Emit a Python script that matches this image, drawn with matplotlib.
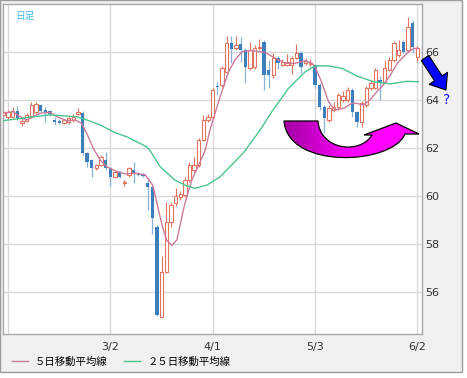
import numpy as np
import matplotlib.pyplot as plt
from matplotlib.patches import Rectangle, FancyArrow, PathPatch
from matplotlib.path import Path
from matplotlib.colors import LinearSegmentedColormap

# daily candles (index = trading day)
opens = [63.38, 63.28, 63.30, 63.55, 63.05, 63.14, 63.33, 63.50, 63.80, 63.60,
         63.55, 63.17, 63.12, 63.05, 63.08, 63.15, 63.40, 63.47, 61.80, 61.50,
         61.15, 61.30, 61.50, 61.15, 60.80, 61.00, 60.53, 60.87, 61.08, 60.95,
         60.88, 60.53, 60.36, 58.72, 54.97, 56.85, 58.93, 59.70, 59.95, 60.04,
         60.67, 61.08, 61.29, 62.33, 63.17, 63.28, 64.60, 64.63, 65.18, 66.36,
         66.15, 66.33, 66.08, 65.32, 65.39, 66.15, 66.40, 65.25, 65.04, 65.74,
         65.46, 65.46, 65.46, 65.74, 65.95, 65.53, 65.50, 65.46, 64.63, 63.72,
         63.17, 63.58, 63.72, 64.00, 64.00, 64.42, 63.51, 63.10, 63.79, 64.49,
         64.49, 64.83, 64.76, 65.25, 65.67, 65.88, 66.43, 66.08, 67.20, 65.80]
highs = [63.60, 63.60, 63.70, 63.75, 63.25, 63.45, 63.90, 63.90, 63.85, 63.72,
         63.60, 63.30, 63.20, 63.20, 63.30, 63.40, 63.65, 63.55, 61.85, 61.55,
         61.35, 61.70, 61.85, 61.20, 61.05, 61.05, 60.68, 61.20, 61.43, 61.00,
         60.95, 60.74, 60.40, 58.80, 57.50, 59.76, 59.76, 60.33, 60.20, 60.80,
         61.43, 61.64, 62.40, 63.37, 63.43, 64.50, 64.76, 65.40, 66.67, 66.67,
         66.67, 66.64, 66.15, 66.40, 66.30, 66.54, 66.50, 65.67, 65.95, 65.85,
         65.70, 65.90, 65.85, 66.33, 66.05, 65.75, 65.70, 65.50, 64.70, 63.80,
         63.80, 63.90, 64.30, 64.38, 64.55, 64.50, 63.55, 63.95, 64.60, 64.85,
         65.35, 65.00, 65.67, 65.80, 66.45, 66.50, 66.50, 67.47, 67.33, 66.25]
lows = [63.30, 63.20, 63.25, 63.15, 62.90, 63.10, 63.25, 63.40, 63.50, 63.10,
        63.35, 62.95, 63.00, 63.00, 63.00, 63.10, 63.38, 61.70, 61.20, 60.80,
        61.10, 61.25, 61.10, 60.40, 60.75, 60.75, 60.40, 60.80, 60.53, 60.85,
        60.78, 59.42, 58.40, 55.00, 54.95, 56.80, 58.70, 59.60, 59.85, 59.95,
        60.60, 61.00, 61.20, 62.30, 63.10, 63.20, 64.20, 64.55, 65.10, 65.55,
        66.10, 65.60, 64.72, 65.25, 65.30, 66.10, 64.42, 64.49, 64.90, 65.30,
        65.40, 65.40, 65.10, 65.70, 65.11, 65.45, 65.40, 64.50, 63.58, 62.61,
        63.10, 63.50, 63.60, 63.90, 63.90, 63.30, 62.89, 62.89, 63.70, 64.42,
        64.45, 64.00, 64.70, 65.20, 65.60, 65.80, 65.95, 66.00, 65.95, 65.60]
closes = [63.50, 63.51, 63.55, 63.23, 63.12, 63.37, 63.79, 63.85, 63.55, 63.52,
          63.42, 63.10, 63.05, 63.15, 63.25, 63.30, 63.50, 61.80, 61.43, 61.15,
          61.30, 61.64, 61.15, 60.80, 61.00, 60.80, 60.60, 61.15, 60.97, 60.88,
          60.82, 60.36, 59.07, 55.04, 56.85, 58.93, 59.63, 60.00, 60.08, 60.67,
          61.29, 61.29, 62.33, 63.17, 63.28, 64.42, 64.53, 65.32, 66.36, 66.11,
          66.29, 66.08, 65.39, 66.08, 66.15, 66.22, 65.04, 65.04, 65.74, 65.53,
          65.60, 65.60, 65.74, 65.95, 65.39, 65.64, 65.55, 64.63, 63.72, 63.24,
          63.65, 63.72, 64.21, 64.15, 64.42, 63.51, 63.10, 63.86, 64.49, 64.70,
          65.25, 64.76, 65.32, 65.67, 66.36, 66.08, 66.01, 67.05, 66.20, 66.15]

# moving averages (day index, value)
ma5_days = [0, 2.1, 3.6, 5, 6.4, 7.9, 10, 11.5, 13.6, 15.4, 16.8, 17.9, 19.3,
            20.8, 22.2, 24, 26.2, 28.3, 30.5, 32.1, 33, 34.1, 35.1, 36.2, 37.3,
            38, 38.9, 40.5, 41.9, 43.4, 44.4, 46.6, 48.4, 49.8, 51.3, 53, 55.2,
            56.3, 58.4, 60.6, 62.7, 64.9, 66.3, 67, 68.5, 69.9, 71.3, 73.1,
            74.9, 76, 77.4, 78.8, 80.3, 81.7, 83.2, 84.7, 86, 87.1, 88.3, 89.2]
ma5_vals = [63.45, 63.51, 63.30, 63.17, 63.30, 63.45, 63.49, 63.30, 63.14,
            63.17, 63.03, 62.61, 61.99, 61.50, 61.22, 61.05, 60.92, 60.95,
            60.88, 60.45, 59.70, 58.80, 58.15, 57.94, 58.17, 58.80, 59.60,
            60.67, 61.25, 61.92, 62.75, 64.14, 65.18, 65.67, 66.01, 66.06,
            66.01, 65.98, 65.74, 65.53, 65.53, 65.64, 65.53, 65.39, 64.70,
            63.93, 63.58, 63.65, 63.86, 63.86, 63.79, 64.00, 64.35, 64.63,
            65.04, 65.53, 65.80, 66.01, 66.15, 66.15]
ma25_days = [0, 6.4, 10, 15.8, 17.9, 20.8, 24, 26.5, 30.8, 31.5, 33.7, 36.8,
             39.4, 41.2, 43.8, 46.6, 49.4, 51.6, 55.2, 57.7, 61.3, 64.9, 67,
             69.8, 72.8, 76, 79.6, 83.2, 86.7, 89.2]
ma25_vals = [63.14, 63.30, 63.38, 63.30, 63.17, 62.96, 62.64, 62.47, 62.05,
             61.90, 61.22, 60.67, 60.42, 60.32, 60.46, 60.80, 61.36, 61.80,
             62.75, 63.51, 64.49, 65.18, 65.42, 65.42, 65.32, 65.00, 64.76,
             64.67, 64.78, 64.76]

tick_days = [1, 23, 45, 67, 89]
tick_labels = ['', '3/2', '4/1', '5/3', '6/2']
y_ticks = [56, 58, 60, 62, 64, 66]

jp = 'Noto Sans CJK JP'
red_c = '#e2735f'
blue_c = '#3d7fba'
blue_wick = '#86b3da'

fig = plt.figure(figsize=(4.67, 3.78), dpi=100)
fig.patch.set_facecolor('white')
# grey panel behind everything
fig.add_artist(Rectangle((0, 6 / 378), 462 / 467, 372 / 378, transform=fig.transFigure,
                         facecolor='#f0f0f0', edgecolor='#9c9c9c', lw=1, zorder=-1))

ax = fig.add_axes([3 / 467, 44 / 378, 419 / 467, 330 / 378])
ax.set_facecolor('white')

days = np.arange(len(closes))
o = np.array(opens)
h = np.array(highs)
l = np.array(lows)
c = np.array(closes)
up = c >= o
dn = ~up

# candles
ax.vlines(days[up], l[up], h[up], color=red_c, lw=0.8, zorder=2)
ax.vlines(days[dn], l[dn], h[dn], color=blue_wick, lw=0.9, zorder=2)
ax.bar(days[up], np.maximum(c - o, 0.04)[up], bottom=o[up], width=0.72,
       facecolor='white', edgecolor=red_c, lw=0.8, zorder=3)
ax.bar(days[dn], (o - c)[dn], bottom=c[dn], width=0.72, color=blue_c, lw=0, zorder=3)

# moving averages
line5, = ax.plot(ma5_days, ma5_vals, color='#cc7a9a', lw=1, zorder=4)
line25, = ax.plot(ma25_days, ma25_vals, color='#4cc48c', lw=1, zorder=4)

ax.set_xlim(-0.1, 90.0)
ax.set_ylim(54.25, 68.0)
ax.set_xticks(tick_days)
ax.set_xticklabels(tick_labels)
ax.set_yticks(y_ticks)
ax.yaxis.tick_right()
ax.tick_params(length=0, labelsize=8, labelcolor='#333333')
ax.tick_params(axis='x', pad=6)
ax.tick_params(axis='y', pad=2)
ax.grid(True, color='#d9d9d9', lw=1)
ax.set_axisbelow(True)
for s in ax.spines.values():
    s.set_color('#a8a8a8')
    s.set_linewidth(1)

ax.text(0.03, 0.965, '日足', transform=ax.transAxes, family=jp, fontsize=7,
        color='#3cbff0', va='center')

fig.legend([line5, line25], ['５日移動平均線', '２５日移動平均線'],
           loc='center left', bbox_to_anchor=(12 / 467, 1 - 362 / 378), ncol=2,
           frameon=False, prop={'family': jp, 'size': 7.5}, handlelength=1.5,
           handletextpad=0.7, columnspacing=1.6, borderaxespad=0, borderpad=0)

# overlay in pixel coords for the hand drawn arrows
ov = fig.add_axes([0, 0, 1, 1], zorder=10)
ov.axis('off')

verts = [(284, 121), (318, 121),
         (320, 150), (360, 155), (372, 135),
         (364, 135), (396, 123), (419, 134), (405, 134),
         (392, 165), (288, 170), (284, 121), (284, 121)]
codes = [Path.MOVETO, Path.LINETO,
         Path.CURVE4, Path.CURVE4, Path.CURVE4,
         Path.LINETO, Path.LINETO, Path.LINETO, Path.LINETO,
         Path.CURVE4, Path.CURVE4, Path.CURVE4, Path.CLOSEPOLY]
u_path = Path(verts, codes)
clip = PathPatch(u_path, facecolor='none', edgecolor='none')
ov.add_patch(clip)
cmap = LinearSegmentedColormap.from_list('mag', ['#a400a4', '#ff00ff', '#ff00ff'])
grad = np.linspace(0, 1, 100).reshape(1, -1)
im = ov.imshow(grad, cmap=cmap, extent=[284, 420, 172, 120], aspect='auto', zorder=1)
im.set_clip_path(clip)
ov.add_patch(PathPatch(u_path, facecolor='none', edgecolor='black', lw=0.9, zorder=2))

ov.add_patch(FancyArrow(425, 58, 21, 32, width=9, head_width=22, head_length=14,
                        length_includes_head=True, facecolor='#0000ff',
                        edgecolor='black', lw=0.8, zorder=2))
ov.text(447, 100, '?', color='#1a1aff', fontsize=10, ha='center', va='center')

ov.set_xlim(0, 467)
ov.set_ylim(378, 0)

fig.savefig('out.png', dpi=100)
